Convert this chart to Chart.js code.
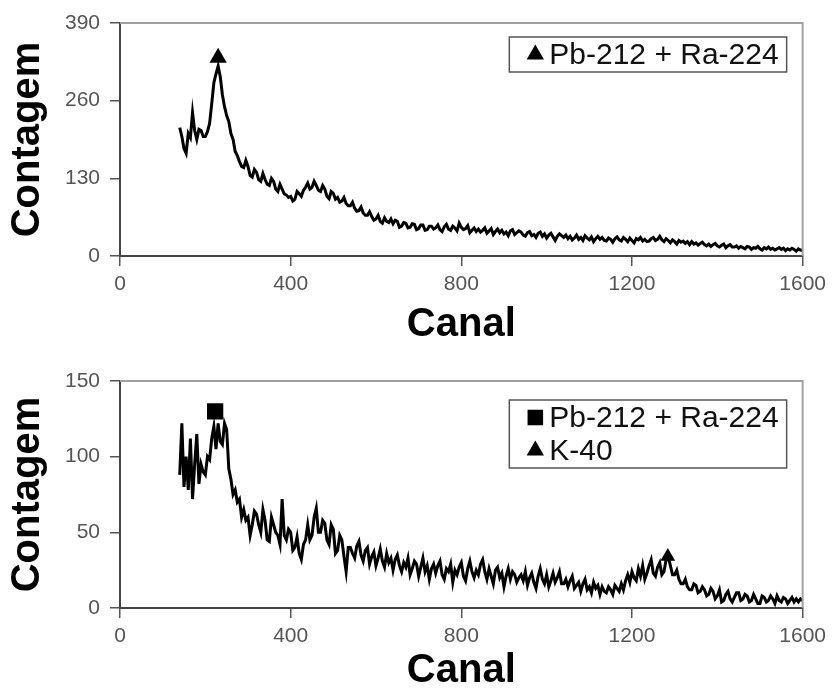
<!DOCTYPE html>
<html>
<head>
<meta charset="utf-8">
<script src="https://cdn.jsdelivr.net/npm/chart.js@4.4.1/dist/chart.umd.min.js"></script>
<style>
  html, body { margin: 0; padding: 0; background: #fff; }
  #wrap { position: relative; width: 832px; height: 691px; }
  .painel { position: absolute; left: 0; width: 832px; }
  #painelTopo { top: 0; height: 345px; }
  #painelBase { top: 345px; height: 346px; }
</style>
</head>
<body>
<div id="wrap">
  <div class="painel" id="painelTopo"><canvas id="graficoTopo"></canvas></div>
  <div class="painel" id="painelBase"><canvas id="graficoBase"></canvas></div>
</div>
<script>
// -------------------------------
// Data
// -------------------------------
const canalInicio = 140;
const canalPasso = 5;

// upper spectrum, channels 140..1600 every 5 (one row = 100 channels)
const contagemTopo = [
  215, 200, 180, 172, 205, 198, 240, 210, 195, 212, 210, 200, 200, 208, 222, 255, 290, 305, 318, 300,
  270, 250, 235, 225, 205, 195, 175, 168, 158, 150, 148, 160, 150, 135, 132, 145, 140, 128, 125, 138,
  128, 120, 118, 130, 125, 112, 108, 120, 112, 104, 102, 98, 100, 92, 95, 108, 104, 100, 110, 115,
  122, 112, 115, 125, 118, 110, 108, 118, 112, 100, 96, 108, 105, 95, 98, 90, 92, 98, 88, 84,
  84, 90, 80, 75, 76, 82, 72, 68, 68, 74, 66, 60, 62, 68, 58, 55, 64, 58, 56, 62,
  54, 60, 58, 48, 50, 56, 55, 47, 48, 54, 53, 44, 46, 52, 52, 43, 44, 50, 50, 45,
  47, 52, 44, 41, 49, 53, 45, 43, 50, 47, 42, 55, 48, 44, 46, 51, 39, 43, 47, 41,
  45, 40, 43, 47, 38, 42, 46, 36, 41, 45, 39, 43, 37, 40, 34, 42, 44, 36, 39, 42,
  40, 35, 33, 39, 41, 34, 36, 31, 38, 40, 33, 37, 30, 35, 38, 32, 26, 33, 37, 34,
  31, 35, 29, 33, 27, 30, 35, 28, 31, 26, 34, 30, 27, 32, 24, 29, 33, 28, 31, 26,
  25, 30, 28, 23, 29, 32, 27, 25, 31, 28, 24, 30, 26, 22, 29, 27, 31, 25, 28, 24,
  25, 29, 31, 26, 28, 33, 27, 24, 29, 26, 22, 27, 24, 20, 26, 23, 25, 21, 24, 19,
  24, 20, 22, 18, 21, 23, 19, 17, 20, 16, 19, 21, 17, 15, 18, 20, 14, 17, 19, 15,
  15, 17, 13, 16, 14, 12, 16, 15, 11, 14, 13, 16, 12, 10, 14, 12, 15, 11, 13, 10,
  12, 14, 11, 13, 9, 12, 10, 13, 11, 8, 12, 10, 9
];

// lower spectrum, same channels
const contagemBase = [
  88, 122, 80, 100, 78, 112, 72, 95, 115, 82, 95, 90, 88, 100, 98, 112, 120, 105, 122, 110,
  108, 122, 118, 92, 85, 75, 78, 70, 72, 60, 65, 58, 60, 48, 55, 64, 62, 55, 50, 65,
  58, 45, 44, 60, 55, 50, 48, 42, 72, 48, 45, 52, 50, 38, 40, 47, 36, 32, 42, 45,
  55, 45, 48, 60, 66, 50, 50, 58, 56, 45, 42, 55, 52, 36, 38, 48, 45, 34, 24, 40,
  40, 36, 33, 41, 44, 35, 31, 38, 40, 29, 34, 37, 28, 33, 39, 31, 27, 36, 30, 33,
  25, 32, 35, 28, 24, 30, 27, 33, 22, 26, 31, 29, 21, 27, 33, 24, 28, 19, 26, 29,
  23, 28, 31, 22, 19, 26, 24, 29, 17, 25, 22, 27, 30, 21, 18, 26, 31, 24, 20, 25,
  22, 29, 32, 24, 19, 26, 21, 16, 25, 27, 20, 23, 14, 21, 26, 19, 24, 22, 17, 20,
  22, 18, 24, 15, 20, 23, 17, 13, 21, 26, 19, 16, 22, 14, 18, 23, 17, 20, 24, 16,
  16, 19, 14, 18, 21, 13, 15, 17, 11, 16, 19, 12, 14, 10, 17, 13, 15, 9, 14, 11,
  10, 14, 12, 9, 15, 13, 11, 16, 12, 18, 22, 17, 24, 20, 18, 26, 21, 28, 19, 23,
  28, 32, 23, 21, 27, 30, 22, 24, 32, 34, 28, 22, 22, 25, 19, 16, 16, 19, 14, 12,
  12, 16, 15, 10, 11, 14, 12, 8, 9, 13, 11, 6, 8, 12, 4, 5, 9, 11, 6, 4,
  7, 10, 10, 5, 6, 9, 8, 4, 5, 9, 6, 3, 3, 8, 7, 4, 5, 8, 6, 3,
  8, 5, 4, 7, 6, 3, 5, 7, 4, 6, 4, 6, 5
];

// peak markers
const picoTopoPb = [{ x: 230, y: 332 }];
const picoBasePb = [{ x: 223, y: 130 }];
const picoBaseK = [{ x: 1284, y: 34 }];

const legendaPb = "Pb-212 + Ra-224";
const legendaK = "K-40";

const ticksX = [0, 400, 800, 1200, 1600];
const ticksYTopo = [0, 130, 260, 390];
const ticksYBase = [0, 50, 100, 150];

const canais = contagemTopo.map((_, i) => canalInicio + i * canalPasso);

Chart.defaults.font.family = "'Liberation Sans', Arial, sans-serif";
Chart.defaults.animation = false;

// -------------------------------
// Frame (top/right) + boxed legend
// -------------------------------
const molduraLegenda = {
  id: "molduraLegenda",
  afterDatasetsDraw(chart, args, opts) {
    const ctx = chart.ctx;
    const a = chart.chartArea;
    ctx.save();

    ctx.strokeStyle = "#a0a0a0";
    ctx.lineWidth = 2;
    ctx.beginPath();
    ctx.moveTo(a.left, a.top);
    ctx.lineTo(a.right, a.top);
    ctx.lineTo(a.right, a.bottom);
    ctx.stroke();

    const itens = chart.data.datasets.filter((d) => d.naLegenda);
    ctx.font = "30px 'Liberation Sans', Arial, sans-serif";
    const larguraTexto = Math.max(...itens.map((d) => ctx.measureText(d.label).width));
    const w = 40 + larguraTexto + 8;
    const h = itens.length * 33 + 2;
    const x0 = a.right - opts.direita - w;
    const y0 = a.top + opts.topo;

    ctx.fillStyle = "#fff";
    ctx.fillRect(x0, y0, w, h);
    ctx.strokeStyle = "#555";
    ctx.lineWidth = 1.5;
    ctx.strokeRect(x0, y0, w, h);

    itens.forEach((d, i) => {
      const cy = y0 + 17.5 + i * 33;
      ctx.fillStyle = "#000";
      Chart.helpers.drawPoint(ctx, {
        pointStyle: d.pointStyle,
        radius: d.raioLegenda,
        rotation: 0,
        borderWidth: 0
      }, x0 + 26, cy);
      ctx.fillStyle = "#111";
      ctx.textBaseline = "middle";
      ctx.textAlign = "left";
      ctx.fillText(d.label, x0 + 40, cy + 1);
    });
    ctx.restore();
  }
};

// -------------------------------
// Build one panel
// -------------------------------
function montarGrafico(idCanvas, valores, marcadores, ticksY, padding, alturaEixoX) {
  const espectro = canais.map((c, i) => ({ x: c, y: valores[i] }));

  const datasets = marcadores.map((m) => ({
    label: m.label,
    data: m.data,
    showLine: false,
    pointStyle: m.estilo,
    pointRadius: m.raio,
    pointBorderWidth: 0,
    backgroundColor: "#000",
    borderColor: "#000",
    raioLegenda: m.raioLegenda,
    naLegenda: true,
    order: 0
  }));

  datasets.push({
    label: "espectro",
    data: espectro,
    borderColor: "#000",
    borderWidth: 3,
    pointRadius: 0,
    tension: 0,
    order: 1
  });

  return new Chart(document.getElementById(idCanvas), {
    type: "line",
    data: { datasets },
    options: {
      responsive: true,
      maintainAspectRatio: false,
      layout: { padding },
      plugins: {
        legend: { display: false },
        tooltip: { enabled: false },
        molduraLegenda: marcadores.opcoesLegenda
      },
      scales: {
        x: {
          type: "linear",
          min: ticksX[0],
          max: ticksX[ticksX.length - 1],
          afterBuildTicks: (s) => { s.ticks = ticksX.map((v) => ({ value: v })); },
          afterFit: (s) => { s.height = alturaEixoX; },
          grid: { drawOnChartArea: false, drawTicks: true, tickLength: 10, color: "#555", lineWidth: 1.5 },
          border: { display: true, color: "#444", width: 2 },
          ticks: { color: "#555", font: { size: 21 }, padding: 6, maxRotation: 0, callback: (v) => String(v) },
          title: {
            display: true,
            text: "Canal",
            color: "#000",
            font: { size: 40, weight: "bold", lineHeight: 1 },
            padding: 0
          }
        },
        y: {
          min: ticksY[0],
          max: ticksY[ticksY.length - 1],
          afterBuildTicks: (s) => { s.ticks = ticksY.map((v) => ({ value: v })); },
          afterFit: (s) => { s.width = 120; },
          grid: { drawOnChartArea: false, drawTicks: true, tickLength: 10, color: "#555", lineWidth: 1.5 },
          border: { display: true, color: "#444", width: 2 },
          ticks: { color: "#555", font: { size: 21 }, padding: 10, callback: (v) => String(v) },
          title: {
            display: true,
            text: "Contagem",
            color: "#000",
            font: { size: 40, weight: "bold" },
            padding: { top: 4, bottom: 0 }
          }
        }
      }
    },
    plugins: [molduraLegenda]
  });
}

// -------------------------------
// Upper panel
// -------------------------------
const marcadoresTopo = [
  { label: legendaPb, data: picoTopoPb, estilo: "triangle", raio: 10, raioLegenda: 10 }
];
marcadoresTopo.opcoesLegenda = { direita: 16, topo: 14 };
montarGrafico("graficoTopo", contagemTopo, marcadoresTopo, ticksYTopo,
  { top: 23, right: 28, left: 0, bottom: 0 }, 89);

// -------------------------------
// Lower panel
// -------------------------------
const marcadoresBase = [
  { label: legendaPb, data: picoBasePb, estilo: "rect", raio: 11.5, raioLegenda: 11 },
  { label: legendaK, data: picoBaseK, estilo: "triangle", raio: 8.5, raioLegenda: 10 }
];
marcadoresBase.opcoesLegenda = { direita: 16, topo: 19 };
montarGrafico("graficoBase", contagemBase, marcadoresBase, ticksYBase,
  { top: 36, right: 26, left: 0, bottom: 0 }, 83);
</script>
</body>
</html>
